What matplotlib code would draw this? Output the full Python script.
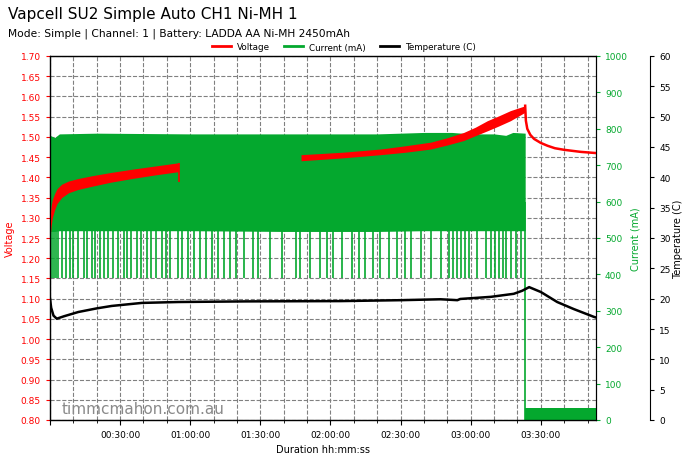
import matplotlib
matplotlib.use("Agg")
import matplotlib.pyplot as plt
from matplotlib.ticker import MultipleLocator, FuncFormatter
from matplotlib.lines import Line2D
import numpy as np

# ---------------- data (time in minutes) ----------------
# voltage band while charging, first segment
v1_t = [0, 0.5, 1, 2, 3, 5, 8, 12, 18, 26, 35, 45, 55]
v1_hi = [1.30, 1.33, 1.345, 1.36, 1.372, 1.383, 1.391, 1.397, 1.404, 1.412, 1.420, 1.428, 1.436]
v1_lo = [1.25, 1.28, 1.30, 1.32, 1.335, 1.350, 1.362, 1.370, 1.378, 1.388, 1.397, 1.406, 1.414]
v1_dip = 1.389
# voltage band, second segment
v2_t = [107.4, 125, 141.4, 152, 162.9, 170, 177, 182, 187.1, 192, 197, 203.3]
v2_hi = [1.456, 1.462, 1.470, 1.478, 1.487, 1.498, 1.511, 1.524, 1.540, 1.552, 1.565, 1.577]
v2_lo = [1.441, 1.448, 1.456, 1.462, 1.470, 1.480, 1.491, 1.503, 1.515, 1.527, 1.540, 1.561]
# voltage after charge end
v3_t = [203.3, 203.6, 204.2, 205.5, 207.1, 210, 212.9, 216, 220, 227, 233.6]
v3_v = [1.577, 1.540, 1.520, 1.505, 1.495, 1.485, 1.478, 1.472, 1.468, 1.463, 1.460]

# current band during charge (mA)
c_t = [0, 2, 4, 20, 60, 100, 140, 160, 172, 180, 190, 195, 198, 203.3]
c_hi = [782, 776, 786, 788, 786, 786, 786, 790, 790, 786, 786, 782, 790, 788]
c_lo = [518, 518, 520, 520, 520, 518, 518, 520, 520, 520, 520, 520, 520, 520]
# low spikes in current (minutes)
spike_t = [0.9, 1.7, 2.6, 3.4, 5.1, 6.9, 8.6, 9.9, 12.0, 14.6, 15.9, 18.0, 19.3, 21.4,
           23.1, 24.9, 27.0, 29.1, 31.7, 33.0, 34.7, 37.3, 39.0, 41.6, 43.3, 45.4, 48.0,
           49.7, 51.4, 54.9, 56.6, 59.1, 61.7, 64.3, 66.9, 69.4, 72.0, 74.6, 77.1, 79.7,
           83.1, 87.0, 89.1, 94.3, 99.4, 105.4, 107.1, 111.4, 115.7, 118.3, 120.9, 125.1,
           129.4, 132.0, 134.6, 138.0, 141.4, 144.9, 148.3, 151.7, 154.3, 158.6, 162.9,
           167.1, 170.6, 172.3, 174.0, 175.7, 177.4, 179.1, 182.6, 186.4, 188.6, 190.3,
           192.0, 193.7, 195.0, 197.1, 199.3, 201.4]
spike_low = 390
charge_end = 203.3
trickle_t = [203.3, 233.6]
trickle_hi = [32, 32]

# temperature (C)
temp_t = [0, 0.5, 1.5, 2.9, 6, 12.1, 20, 26.4, 39.3, 54.9, 83.6, 124.3, 150, 167.1,
          174.3, 175.5, 188.6, 198.4, 202, 205, 210, 217, 224, 232.7, 233.6]
temp_v = [20.0, 18.5, 17.2, 16.7, 17.1, 17.8, 18.4, 18.8, 19.3, 19.45, 19.55, 19.6, 19.75,
          19.9, 19.75, 19.95, 20.3, 20.8, 21.3, 21.9, 21.1, 19.45, 18.3, 17.0, 16.9]

title = "Vapcell SU2 Simple Auto CH1 Ni-MH 1"
subtitle = "Mode: Simple | Channel: 1 | Battery: LADDA AA Ni-MH 2450mAh"
watermark = "timmcmahon.com.au"

RED = "#ff0000"
GREEN = "#04a82e"

# ---------------- figure ----------------
fig = plt.figure(figsize=(6.9, 4.6), dpi=100)
ax = fig.add_axes([50/690, 1-421/460, 546/690, 364/460])
ax.set_xlim(0, 233.6)
ax.set_ylim(0.80, 1.70)
ax.yaxis.set_major_locator(MultipleLocator(0.05))
ax.yaxis.set_major_formatter(FuncFormatter(lambda v, p: f"{v:.2f}"))
ax.xaxis.set_major_locator(MultipleLocator(30))
ax.xaxis.set_minor_locator(MultipleLocator(10))

def fmt(m, p):
    if m <= 0:
        return ""
    s = int(round(m*60))
    return f"{s//3600:02d}:{(s%3600)//60:02d}:{s%60:02d}"
ax.xaxis.set_major_formatter(FuncFormatter(fmt))
ax.grid(True, which="both", axis="x", linestyle="--", color="#808080", lw=0.8)
ax.grid(True, which="major", axis="y", linestyle="--", color="#808080", lw=0.8)
ax.tick_params(axis="y", colors=RED, labelsize=6.5, length=3)
ax.tick_params(axis="x", labelsize=6.5)
ax.tick_params(axis="x", which="minor", length=2)
ax.set_ylabel("Voltage", color=RED, fontsize=7, labelpad=4)
ax.set_xlabel("Duration hh:mm:ss", fontsize=7, labelpad=4)

# current axis
axc = ax.twinx()
axc.set_ylim(0, 1000)
axc.yaxis.set_major_locator(MultipleLocator(100))
axc.tick_params(axis="y", colors=GREEN, labelsize=6.5, length=3)
axc.set_ylabel("Current (mA)", color=GREEN, fontsize=7, labelpad=2)
axc.fill_between(c_t, c_lo, c_hi, color=GREEN, lw=0)
axc.vlines(spike_t, spike_low, 600, color=GREEN, lw=1.2)
axc.vlines([charge_end], 0, 600, color=GREEN, lw=1.2)
axc.fill_between(trickle_t, 0, trickle_hi, color=GREEN, lw=0)

# temperature axis
axt = ax.twinx()
axt.spines["right"].set_position(("axes", 1.099))
axt.set_ylim(0, 60)
axt.yaxis.set_major_locator(MultipleLocator(5))
axt.tick_params(axis="y", labelsize=6.5, length=3)
axt.set_ylabel("Temperature (C)", fontsize=7, labelpad=2)
axt.plot(temp_t, temp_v, color="black", lw=1.8)

# voltage overlay (same scale as left axis)
axv = ax.twinx()
axv.set_ylim(ax.get_ylim())
axv.set_yticks([])
axv.spines["right"].set_visible(False)
axv.fill_between(v1_t, v1_lo, v1_hi, color=RED, lw=0)
axv.vlines([v1_t[-1]], v1_dip, v1_hi[-1], color=RED, lw=1.2)
axv.fill_between(v2_t, v2_lo, v2_hi, color=RED, lw=0)
axv.plot(v3_t, v3_v, color=RED, lw=1.8)

for a in (ax, axc, axt, axv):
    a.set_xlim(0, 233.6)

ax.text(0.022, 0.02, watermark, transform=ax.transAxes, fontsize=11,
        color="#8a8a8a", zorder=10)

fig.text(8/690, 1-15/460, title, fontsize=11, va="center", ha="left")
fig.text(8/690, 1-34/460, subtitle, fontsize=7.7, va="center", ha="left")

handles = [Line2D([], [], color=RED, lw=2), Line2D([], [], color=GREEN, lw=2),
           Line2D([], [], color="black", lw=2)]
fig.legend(handles, ["Voltage", "Current (mA)", "Temperature (C)"], ncol=3,
           loc="center", bbox_to_anchor=(344/690, 1-48/460), frameon=False,
           fontsize=6.3, handlelength=2.2, columnspacing=1.6, handletextpad=0.7)

fig.savefig("out.png", dpi=100)
